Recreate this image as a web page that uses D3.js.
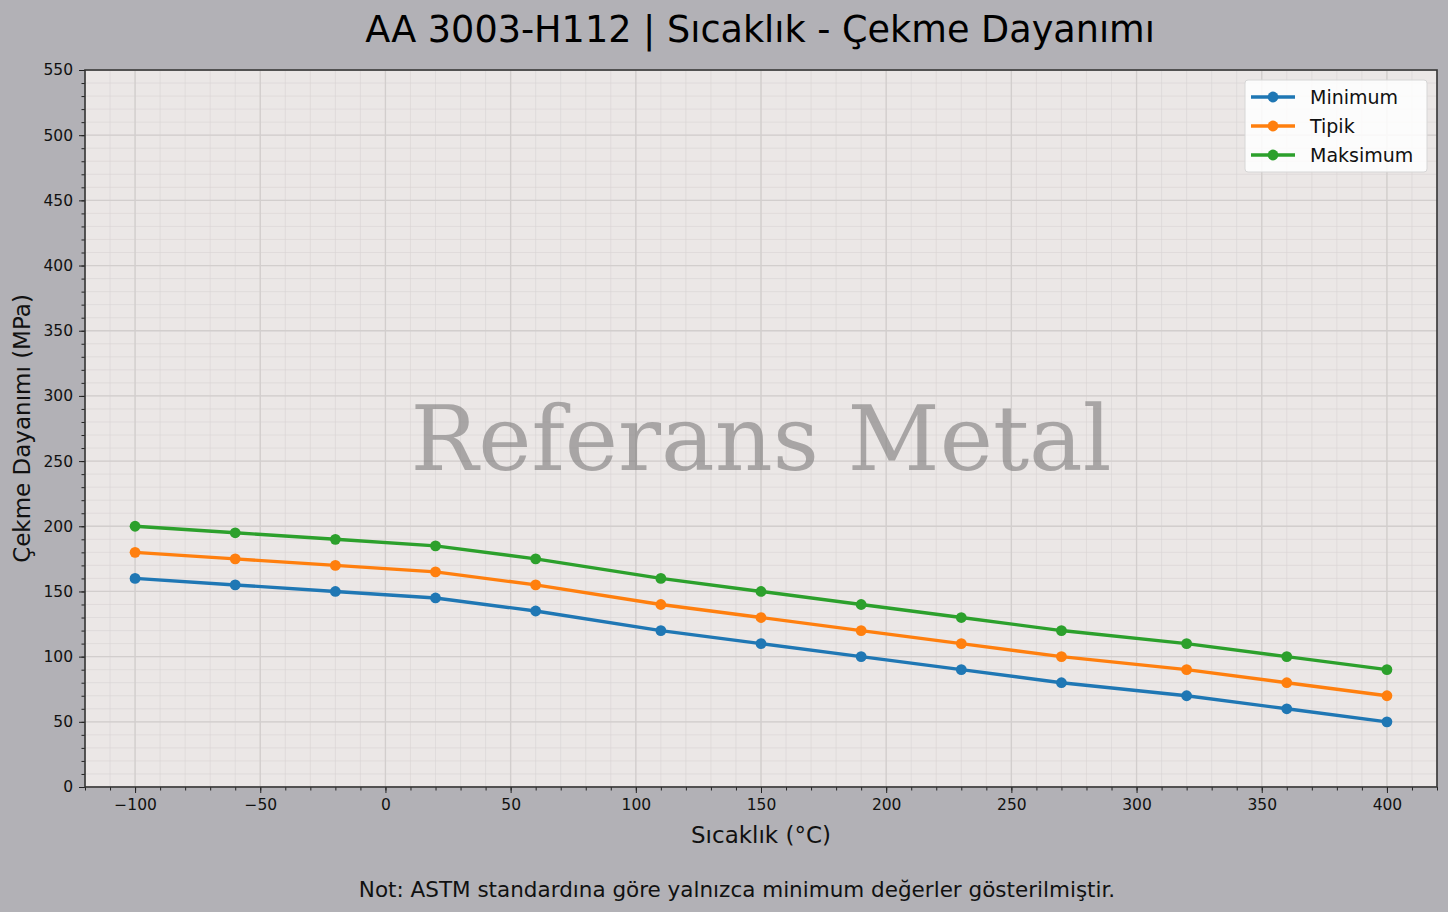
<!DOCTYPE html>
<html>
<head>
<meta charset="utf-8">
<script src="https://cdn.jsdelivr.net/npm/d3@7"></script>
<style>
  body { margin: 0; background: #b2b1b6; }
  svg { display: block; font-family: "DejaVu Sans", sans-serif; }
</style>
</head>
<body>
<svg id="chart" width="1448" height="912"></svg>
<script>
// temperatures (°C)
const temps = [-100, -60, -20, 20, 60, 110, 150, 190, 230, 270, 320, 360, 400];
const minimum = [160, 155, 150, 145, 135, 120, 110, 100, 90, 80, 70, 60, 50];
const tipik = [180, 175, 170, 165, 155, 140, 130, 120, 110, 100, 90, 80, 70];
const maksimum = [200, 195, 190, 185, 175, 160, 150, 140, 130, 120, 110, 100, 90];
const seriesNames = ["Minimum", "Tipik", "Maksimum"];
const seriesColors = ["#1f77b4", "#ff7f0e", "#2ca02c"];

const margin = { left: 85, right: 11, top: 70, bottom: 125 };
const width = 1448, height = 912;

const svg = d3.select("#chart");

const x = d3.scaleLinear().domain([-120, 420]).range([margin.left, width - margin.right]);
const y = d3.scaleLinear().domain([0, 550]).range([height - margin.bottom, margin.top]);

// plot background
svg.append("rect")
  .attr("x", x(-120)).attr("y", y(550))
  .attr("width", x(420) - x(-120)).attr("height", y(0) - y(550))
  .attr("fill", "#ebe7e6");

// minor grid
const grid = svg.append("g");
grid.selectAll(".mx").data(d3.range(-120, 421, 10))
  .enter().append("line")
  .attr("x1", d => x(d)).attr("x2", d => x(d))
  .attr("y1", y(0)).attr("y2", y(550))
  .attr("stroke", "#d8d4d3").attr("stroke-width", 0.6);
grid.selectAll(".my").data(d3.range(0, 551, 10))
  .enter().append("line")
  .attr("y1", d => y(d)).attr("y2", d => y(d))
  .attr("x1", x(-120)).attr("x2", x(420))
  .attr("stroke", "#d8d4d3").attr("stroke-width", 0.6);
// major grid
grid.selectAll(".Mx").data(d3.range(-100, 401, 50))
  .enter().append("line")
  .attr("x1", d => x(d)).attr("x2", d => x(d))
  .attr("y1", y(0)).attr("y2", y(550))
  .attr("stroke", "#d2cecd").attr("stroke-width", 1.3);
grid.selectAll(".My").data(d3.range(0, 551, 50))
  .enter().append("line")
  .attr("y1", d => y(d)).attr("y2", d => y(d))
  .attr("x1", x(-120)).attr("x2", x(420))
  .attr("stroke", "#d2cecd").attr("stroke-width", 1.3);

// watermark
svg.append("text")
  .attr("x", (x(-120) + x(420)) / 2)
  .attr("y", 470)
  .attr("text-anchor", "middle")
  .attr("font-family", "'DejaVu Serif', 'Liberation Serif', serif")
  .attr("font-size", 90)
  .attr("fill", "#7c7a79")
  .attr("fill-opacity", 0.6)
  .text("Referans Metal");

// axes
const fmt = d => d < 0 ? "\u2212" + Math.abs(d) : String(d);
svg.append("g")
  .attr("transform", `translate(0,${y(0)})`)
  .call(d3.axisBottom(x).tickValues(d3.range(-100, 401, 50)).tickFormat(fmt).tickSize(6).tickPadding(6));
svg.append("g")
  .attr("transform", `translate(0,${y(0)})`)
  .call(d3.axisBottom(x).tickValues(d3.range(-120, 421, 10)).tickFormat("").tickSize(3.5))
  .call(g => g.select(".domain").remove());
svg.append("g")
  .attr("transform", `translate(${x(-120)},0)`)
  .call(d3.axisLeft(y).tickValues(d3.range(0, 551, 50)).tickSize(6).tickPadding(6));
svg.append("g")
  .attr("transform", `translate(${x(-120)},0)`)
  .call(d3.axisLeft(y).tickValues(d3.range(0, 551, 10)).tickFormat("").tickSize(3.5))
  .call(g => g.select(".domain").remove());

svg.selectAll(".tick text").attr("font-size", 15.5).attr("fill", "#111").attr("font-family", "'DejaVu Sans', sans-serif");
svg.selectAll(".tick line").attr("stroke", "#222");
svg.selectAll(".domain").remove();

// frame
svg.append("rect")
  .attr("x", x(-120)).attr("y", y(550))
  .attr("width", x(420) - x(-120)).attr("height", y(0) - y(550))
  .attr("fill", "none").attr("stroke", "#333").attr("stroke-width", 1.6);

// lines
const seriesValues = [minimum, tipik, maksimum];
const line = d3.line().x(d => x(d[0])).y(d => y(d[1]));
seriesValues.forEach((vals, i) => {
  const pts = temps.map((t, j) => [t, vals[j]]);
  svg.append("path").datum(pts)
    .attr("d", line).attr("fill", "none")
    .attr("stroke", seriesColors[i]).attr("stroke-width", 3.4)
    .attr("stroke-linejoin", "round");
  svg.append("g").selectAll("circle").data(pts).enter().append("circle")
    .attr("cx", d => x(d[0])).attr("cy", d => y(d[1])).attr("r", 5.4)
    .attr("fill", seriesColors[i]);
});

// legend
const lg = svg.append("g").attr("transform", "translate(1245,80)");
lg.append("rect").attr("width", 182).attr("height", 92).attr("rx", 3)
  .attr("fill", "#fff").attr("fill-opacity", 0.85)
  .attr("stroke", "#d6d6d6").attr("stroke-width", 1);
seriesNames.forEach((name, i) => {
  const yy = 17 + i * 29;
  lg.append("line").attr("x1", 6).attr("x2", 50).attr("y1", yy).attr("y2", yy)
    .attr("stroke", seriesColors[i]).attr("stroke-width", 3.4);
  lg.append("circle").attr("cx", 28).attr("cy", yy).attr("r", 5.4).attr("fill", seriesColors[i]);
  lg.append("text").attr("x", 65).attr("y", yy + 6.5).attr("font-size", 19).attr("fill", "#111").text(name);
});

// titles
svg.append("text").attr("x", width / 2 + 36).attr("y", 42)
  .attr("text-anchor", "middle").attr("font-size", 36.6).attr("fill", "#000")
  .text("AA 3003-H112 | Sıcaklık - Çekme Dayanımı");
svg.append("text").attr("x", (x(-120) + x(420)) / 2).attr("y", 843)
  .attr("text-anchor", "middle").attr("font-size", 23).attr("fill", "#111")
  .text("Sıcaklık (°C)");
svg.append("text")
  .attr("transform", `translate(30,${(y(0) + y(550)) / 2}) rotate(-90)`)
  .attr("text-anchor", "middle").attr("font-size", 23).attr("fill", "#111")
  .text("Çekme Dayanımı (MPa)");
svg.append("text").attr("x", width / 2 + 13).attr("y", 897)
  .attr("text-anchor", "middle").attr("font-size", 21.5).attr("fill", "#111")
  .text("Not: ASTM standardına göre yalnızca minimum değerler gösterilmiştir.");
</script>
</body>
</html>
